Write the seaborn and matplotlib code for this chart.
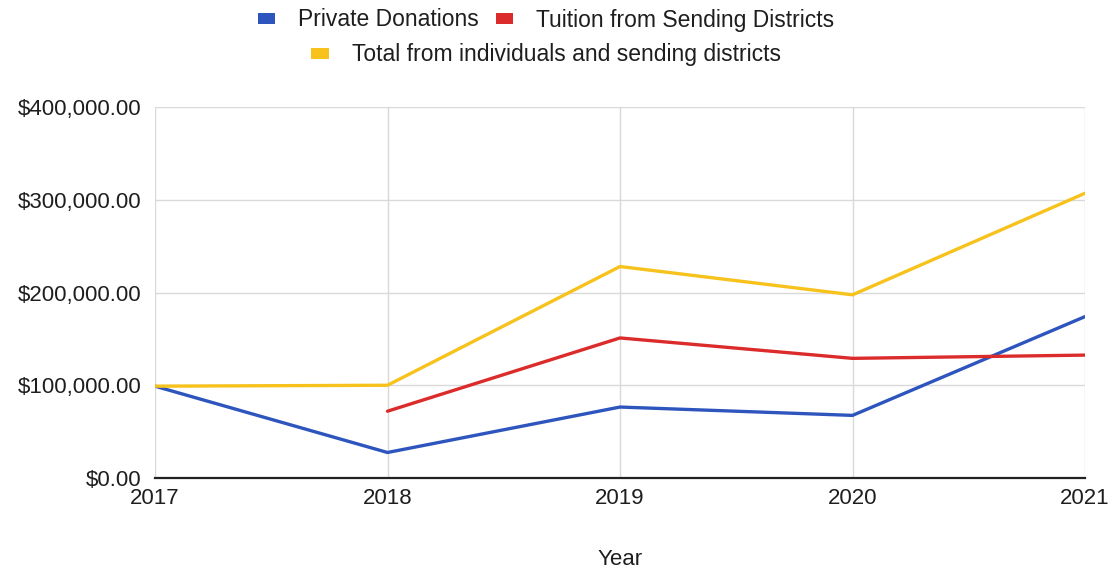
import numpy as np
import pandas as pd
import seaborn as sns
import matplotlib
matplotlib.use("Agg")
import matplotlib.pyplot as plt
from matplotlib.ticker import FuncFormatter, MultipleLocator
from matplotlib.patches import Patch

years = [2017, 2018, 2019, 2020, 2021]
private_donations = [99000, 27500, 76500, 67500, 174000]
tuition_sending = [np.nan, 72000, 151000, 129000, 132500]
total_combined = [99000, 100000, 228000, 197500, 307000]

series_names = [
    "Private Donations",
    "Tuition from Sending Districts",
    "Total from individuals and sending districts",
]
series_colors = ["#2d55bd", "#dc2b2b", "#f7c21c"]

df = pd.DataFrame({
    "Year": years * 3,
    "Amount": private_donations + tuition_sending + total_combined,
    "Series": [series_names[0]] * 5 + [series_names[1]] * 5 + [series_names[2]] * 5,
})

sns.set_theme(style="white")
plt.rcParams["font.family"] = ["Liberation Sans", "DejaVu Sans"]

FS = 16
TXT = "#1e1e1e"

fig = plt.figure(figsize=(11.08, 5.73), dpi=100)
ax = fig.add_axes([155 / 1108, 1 - 478 / 573, (1085 - 155) / 1108, (478 - 107) / 573])

sns.lineplot(
    data=df, x="Year", y="Amount", hue="Series",
    hue_order=series_names, palette=series_colors,
    linewidth=2.4, ax=ax, legend=True,
)

ax.set_xlim(2017, 2021)
ax.set_ylim(0, 400000)
ax.set_xticks(years)
ax.yaxis.set_major_locator(MultipleLocator(100000))
ax.yaxis.set_major_formatter(FuncFormatter(lambda v, p: f"${v:,.2f}"))
ax.grid(True, color="#d9d9d9", linewidth=1.0)
ax.set_axisbelow(True)
for side in ["top", "right", "left"]:
    ax.spines[side].set_visible(False)
ax.spines["bottom"].set_color("#222222")
ax.spines["bottom"].set_linewidth(1.6)
ax.tick_params(axis="both", length=0, labelsize=FS, colors=TXT)
ax.tick_params(axis="y", pad=10)
ax.tick_params(axis="x", pad=7)
ax.set_ylabel("")
ax.set_xlabel("Year", fontsize=FS, color=TXT, labelpad=29)

labels = ax.get_legend_handles_labels()[1]
ax.get_legend().remove()
patches = [Patch(facecolor=c, edgecolor="none") for c in series_colors]
leg_kw = dict(frameon=False, fontsize=16.5, handlelength=0.75, handleheight=0.35,
              handletextpad=1.0, columnspacing=0.75, labelcolor=TXT)
fig.legend(patches[:2], labels[:2], ncol=2, loc="center",
           bbox_to_anchor=(546 / 1108, 1 - 20 / 573), **leg_kw)
fig.legend(patches[2:], labels[2:], ncol=1, loc="center",
           bbox_to_anchor=(546 / 1108, 1 - 55 / 573), **leg_kw)

fig.savefig("out.png", dpi=100, facecolor="white")
